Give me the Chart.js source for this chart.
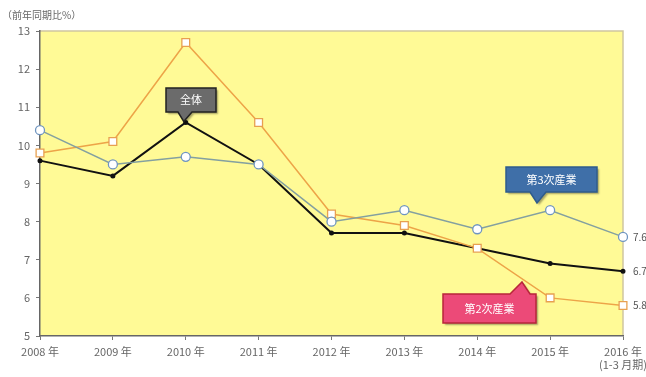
<!DOCTYPE html>
<html>
<head>
<meta charset="utf-8">
<script src="https://cdn.jsdelivr.net/npm/chart.js@4.4.1/dist/chart.umd.min.js"></script>
<style>
html,body{margin:0;padding:0;background:#fff;}
#wrap{width:646px;height:377px;position:relative;}
</style>
</head>
<body>
<div id="wrap"><canvas id="c" width="646" height="377"></canvas></div>
<script>
// Categories (years) and growth rates (year-on-year, %)
const years = ['2008 年','2009 年','2010 年','2011 年','2012 年','2013 年','2014 年','2015 年',['2016 年','(1-3 月期)']];
const total = [9.6, 9.2, 10.6, 9.5, 7.7, 7.7, 7.3, 6.9, 6.7];
const secondary = [9.8, 10.1, 12.7, 10.6, 8.2, 7.9, 7.3, 6.0, 5.8];
const tertiary = [10.4, 9.5, 9.7, 9.5, 8.0, 8.3, 7.8, 8.3, 7.6];
const yTicks = [5, 6, 7, 8, 9, 10, 11, 12, 13];

const FONT = '"Noto Sans CJK JP", "Noto Sans", sans-serif';

// Yellow plot background plus frame lines
const plotBg = {
  id: 'plotBg',
  beforeDraw(chart) {
    const {ctx, chartArea: a} = chart;
    ctx.save();
    ctx.fillStyle = '#fffa96';
    ctx.fillRect(a.left, a.top, a.right - a.left, a.bottom - a.top);
    ctx.strokeStyle = '#cfc6a0';
    ctx.lineWidth = 1.5;
    ctx.beginPath();
    ctx.moveTo(a.left, a.top);
    ctx.lineTo(a.right, a.top);
    ctx.lineTo(a.right, a.bottom);
    ctx.stroke();
    ctx.restore();
  }
};

// Callout boxes and end-of-series value labels
function callout(ctx, x0, y0, w, h, tip, text, fill, stroke) {
  ctx.save();
  ctx.shadowColor = 'rgba(0,0,0,0.35)';
  ctx.shadowOffsetX = 2; ctx.shadowOffsetY = 2; ctx.shadowBlur = 2;
  ctx.fillStyle = fill;
  ctx.strokeStyle = stroke;
  ctx.lineWidth = 1.5;
  ctx.beginPath();
  const [bx1, bx2, tx, ty] = tip;
  if (ty > y0 + h) {
    ctx.moveTo(x0, y0); ctx.lineTo(x0 + w, y0); ctx.lineTo(x0 + w, y0 + h);
    ctx.lineTo(bx2, y0 + h); ctx.lineTo(tx, ty); ctx.lineTo(bx1, y0 + h);
    ctx.lineTo(x0, y0 + h); ctx.closePath();
  } else {
    ctx.moveTo(x0, y0); ctx.lineTo(bx1, y0); ctx.lineTo(tx, ty); ctx.lineTo(bx2, y0);
    ctx.lineTo(x0 + w, y0); ctx.lineTo(x0 + w, y0 + h);
    ctx.lineTo(x0, y0 + h); ctx.closePath();
  }
  ctx.fill();
  ctx.shadowColor = 'transparent';
  ctx.stroke();
  ctx.fillStyle = '#ffffff';
  ctx.font = '11px ' + FONT;
  ctx.textAlign = 'center';
  ctx.textBaseline = 'middle';
  ctx.fillText(text, x0 + w / 2, y0 + h / 2);
  ctx.restore();
}

const notes = {
  id: 'notes',
  afterDatasetsDraw(chart) {
    const {ctx, scales: {x, y}} = chart;
    const last = years.length - 1;
    const px = x.getPixelForValue(last);
    // total callout
    const t2010 = x.getPixelForValue(2), ty2010 = y.getPixelForValue(total[2]);
    callout(ctx, 166, 88, 50, 24, [178, 192, t2010 - 2, ty2010 - 1], '全体', '#6b6b6b', '#222');
    // tertiary callout
    callout(ctx, 506, 167, 91, 25, [530, 546, 537, 203], '第3次産業', '#3f6fa8', '#2f5c8c');
    // secondary callout
    callout(ctx, 443, 294, 93, 29, [510, 530, 522, 282], '第2次産業', '#ec4a78', '#b8263a');
    // end value labels
    ctx.save();
    ctx.fillStyle = '#555';
    ctx.font = '10px ' + FONT;
    ctx.textBaseline = 'middle';
    ctx.textAlign = 'left';
    ctx.fillText(tertiary[last].toFixed(1), px + 10, y.getPixelForValue(tertiary[last]));
    ctx.fillText(total[last].toFixed(1), px + 10, y.getPixelForValue(total[last]));
    ctx.fillText(secondary[last].toFixed(1), px + 10, y.getPixelForValue(secondary[last]));
    // axis unit
    ctx.fillStyle = '#666';
    ctx.font = '10px ' + FONT;
    ctx.fillText('（前年同期比%）', 2, 15);
    ctx.restore();
  }
};

new Chart(document.getElementById('c'), {
  type: 'line',
  data: {
    labels: years,
    datasets: [
      {
        label: '第3次産業', data: tertiary,
        borderColor: '#84a0a0', borderWidth: 1.5,
        pointStyle: 'circle', pointRadius: 4.5,
        pointBackgroundColor: '#ffffff', pointBorderColor: '#6f95c0', pointBorderWidth: 1.3,
        tension: 0
      },
      {
        label: '第2次産業', data: secondary,
        borderColor: '#eda448', borderWidth: 1.5,
        pointStyle: 'rect', pointRadius: 5.5,
        pointBackgroundColor: '#ffffff', pointBorderColor: '#e8a050', pointBorderWidth: 1.3,
        tension: 0
      },
      {
        label: '全体', data: total,
        borderColor: '#111111', borderWidth: 2,
        pointStyle: 'circle', pointRadius: 1.5,
        pointBackgroundColor: '#111', pointBorderColor: '#111',
        tension: 0
      }
    ]
  },
  options: {
    responsive: false,
    animation: false,
    layout: {padding: {left: 0, right: 23, top: 31, bottom: 0}},
    plugins: {legend: {display: false}, tooltip: {enabled: false}},
    scales: {
      x: {
        offset: false,
        grid: {drawOnChartArea: false, drawTicks: true, tickLength: 4, color: '#777'},
        border: {color: '#666', width: 1.5},
        ticks: {color: '#666', font: {family: FONT, size: 11}, padding: 5, maxRotation: 0, autoSkip: false},
        afterFit(s) { s.height = 41; s.paddingLeft = 0; s.paddingRight = 0; }
      },
      y: {
        min: 5, max: 13,
        afterBuildTicks(s) { s.ticks = yTicks.map(v => ({value: v})); },
        grid: {drawOnChartArea: false, drawTicks: true, tickLength: 4, color: '#777'},
        border: {color: '#666', width: 1.5},
        ticks: {color: '#666', font: {family: FONT, size: 11}, padding: 6},
        afterFit(s) { s.width = 40; }
      }
    }
  },
  plugins: [plotBg, notes]
});
</script>
</body>
</html>
